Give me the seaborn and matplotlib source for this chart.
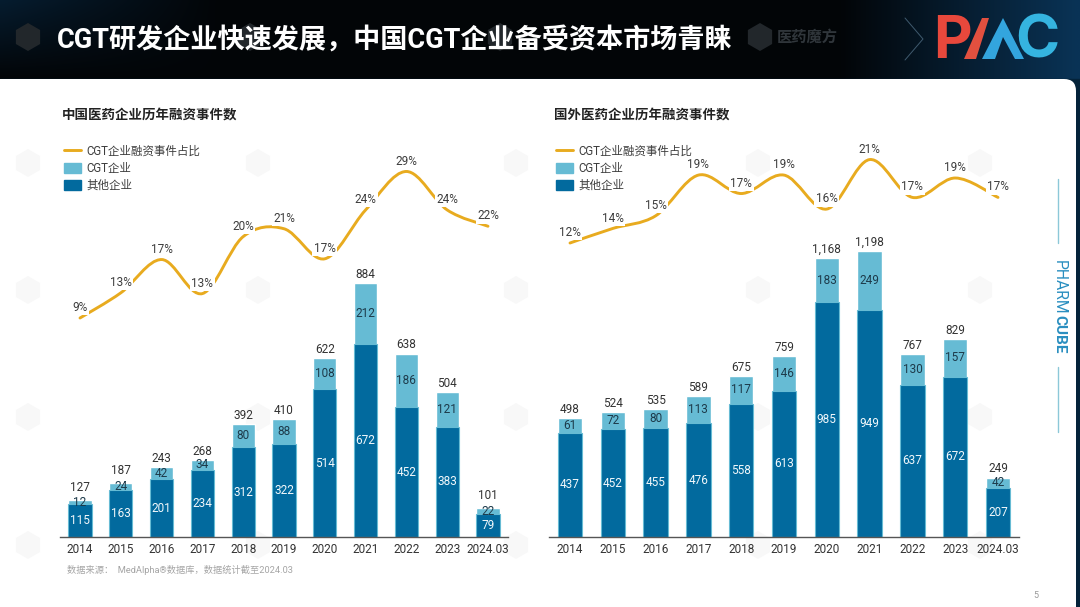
import numpy as np
import matplotlib
matplotlib.use("Agg")
import matplotlib.pyplot as plt
import seaborn as sns
from matplotlib.lines import Line2D
from matplotlib.patches import FancyBboxPatch, PathPatch, Patch, Polygon, Rectangle, RegularPolygon
from matplotlib.path import Path

years = ["2014", "2015", "2016", "2017", "2018", "2019", "2020", "2021", "2022", "2023", "2024.03"]

# 中国
cn_other = [115, 163, 201, 234, 312, 322, 514, 672, 452, 383, 79]
cn_cgt = [12, 24, 42, 34, 80, 88, 108, 212, 186, 121, 22]
cn_total = [127, 187, 243, 268, 392, 410, 622, 884, 638, 504, 101]
cn_share = [9.4, 12.8, 17.3, 12.7, 20.4, 21.46, 17.4, 24.0, 29.2, 24.0, 21.8]

# 国外
us_other = [437, 452, 455, 476, 558, 613, 985, 949, 637, 672, 207]
us_cgt = [61, 72, 80, 113, 117, 146, 183, 249, 130, 157, 42]
us_total = [498, 524, 535, 589, 675, 759, 1168, 1198, 767, 829, 249]
us_share = [12.2, 13.7, 15.0, 19.2, 17.3, 19.2, 15.7, 20.8, 16.9, 18.9, 16.9]

DARK = "#026a9e"
LIGHT = "#66bbd4"
GOLD = "#e8ab1f"
W, H = 1080, 607

sns.set_theme(style="white")
plt.rcParams["font.family"] = ["Roboto", "Noto Sans CJK SC", "DejaVu Sans"]
plt.rcParams["axes.unicode_minus"] = False

fig = plt.figure(figsize=(W / 100, H / 100), dpi=100, facecolor="white")

# 背景
bg = fig.add_axes([0, 0, 1, 1], zorder=0)
bg.axis("off")
xx, yy = np.meshgrid(np.linspace(0, 1, 216), np.linspace(0, 1, 40))
blue = np.clip((xx - 0.78) / 0.22, 0, 1) * 0.9 + np.clip((0.2 - xx) / 0.2, 0, 1) * (1 - yy) * 0.45
head = np.dstack([0.01 + 0.03 * blue, 0.02 + 0.2 * blue, 0.03 + 0.34 * blue])
bg.imshow(head, extent=[0, W, 79, 0], aspect="auto", zorder=1, interpolation="bilinear")
bg.set_xlim(0, W)
bg.set_ylim(H, 0)
bg.add_patch(Rectangle((0, 79), W, H - 79, color="#04233a", zorder=1))
bg.add_patch(FancyBboxPatch((-30, 79), 1106, 600, boxstyle="round,pad=0,rounding_size=12",
                            fc="white", ec="none", zorder=2))

# 水印
for x in [28, 250, 500, 760]:
    bg.add_patch(RegularPolygon((x, 37), 6, radius=14, fc="#22272b", ec="none", zorder=3))
bg.text(777, 37, "医药魔方", color="#30363b", fontsize=11, weight="bold", va="center", zorder=3)
for y in [163, 290, 417, 545]:
    for x in [28, 258, 516, 758, 980]:
        bg.add_patch(RegularPolygon((x, y), 6, radius=14, fc="#f8f8f8", ec="none", zorder=3))

bg.text(57, 41.5, "CGT研发企业快速发展，中国CGT企业备受资本市场青睐", color="white", fontsize=19.55,
        weight="bold", va="center", zorder=5)

# logo
bg.plot([905, 923, 905], [18, 39, 60], color="#3f5a6e", lw=0.7, zorder=3)
bg.text(933, 43, "P", color="#e8483c", fontsize=43, weight="bold", family="Inter", va="center", zorder=5)
bg.add_patch(Polygon([(964, 59), (976, 59), (989, 18), (982, 18)], fc="#e2503f", ec="none", zorder=5))
bg.add_patch(Polygon([(982, 59), (1003, 18), (1024, 59), (1015, 59), (1003, 37), (995, 59)],
                     fc="#33a5de", ec="none", zorder=5))
bg.text(1015, 42, "C", color="#35b4e0", fontsize=43, weight="bold", family="Inter", va="center", zorder=5)

# 侧边
bg.plot([1058, 1058], [179, 243], color="#8cc8d8", lw=1, zorder=3)
bg.plot([1058, 1058], [367, 432], color="#8cc8d8", lw=1, zorder=3)
bg.text(1059, 260, "PHARM", rotation=270, color="#2a8fc0", fontsize=11.3, ha="center", va="top", zorder=3)
bg.text(1059, 315, "CUBE", rotation=270, color="#2a8fc0", fontsize=11, weight="bold", ha="center", va="top", zorder=3)
bg.text(1036, 595, "5", color="#999999", fontsize=6.5, ha="center", va="center", zorder=3)
bg.text(67, 570, "数据来源：  MedAlpha®数据库，数据统计截至2024.03", color="#a5a5a5", fontsize=6.65,
        va="center", zorder=3)


def smooth_path(xs, ys):
    # Excel 风格平滑线
    pts = np.column_stack([xs, ys])
    verts = [pts[0]]
    codes = [Path.MOVETO]
    for i in range(len(pts) - 1):
        prev_p = pts[max(i - 1, 0)]
        next_p = pts[min(i + 2, len(pts) - 1)]
        verts += [pts[i] + (pts[i + 1] - prev_p) / 6, pts[i + 1] - (next_p - pts[i]) / 6, pts[i + 1]]
        codes += [Path.CURVE4] * 3
    return Path(verts, codes)


def draw_panel(left, right, title, title_x, other, cgt, total, share, bar_scale, y_ref, pct_scale):
    # left/right 为像素位置, 基线 y=537
    top, base = 120, 537
    ax = fig.add_axes([left / W, 1 - base / H, (right - left) / W, (base - top) / H], zorder=2)
    ax.patch.set_alpha(0)
    sns.barplot(x=years, y=total, color=LIGHT, saturation=1, width=0.57, ax=ax)
    sns.barplot(x=years, y=other, color=DARK, saturation=1, width=0.57, ax=ax,
                edgecolor=LIGHT, linewidth=0.8)
    ax.set_xlim(-0.5, 10.5)
    ax.set_ylim(0, (base - top) / bar_scale)
    ax.set_xlabel("")
    ax.set_ylabel("")
    ax.set_yticks([])
    sns.despine(ax=ax, left=True)
    ax.spines["bottom"].set_color("#555555")
    ax.spines["bottom"].set_linewidth(1)
    ax.tick_params(axis="x", length=0, pad=4.5, labelsize=8.5, labelcolor="#333333")

    for i in range(len(years)):
        ax.text(i, other[i] / 2, str(other[i]), color="#f2f8fb", fontsize=8.5, ha="center", va="center")
        ax.text(i, other[i] + cgt[i] / 2, str(cgt[i]), color="#1d3a4a", fontsize=8.5, ha="center", va="center")
        # 段太矮时总数上移, 避开段内数字
        pad = 4.5 if cgt[i] * bar_scale < 9 else 1.5
        ax.annotate(f"{total[i]:,}", (i, total[i]), xytext=(0, pad), textcoords="offset points",
                    color="#333333", fontsize=8.5, ha="center", va="bottom")

    # 折线轴
    lx = ax.twinx()
    lx.patch.set_alpha(0)
    ref_v, ref_y = y_ref
    lx.set_ylim(ref_v - (base - ref_y) / pct_scale, ref_v + (ref_y - top) / pct_scale)
    lx.set_yticks([])
    lx.grid(False)
    for s in lx.spines.values():
        s.set_visible(False)
    lx.add_patch(PathPatch(smooth_path(np.arange(len(years)), share), fc="none", ec=GOLD, lw=2.1,
                           capstyle="round", zorder=2))
    for i, v in enumerate(share):
        lx.annotate(f"{v:.0f}%", (i, v), xytext=(0, 7.5), textcoords="offset points", color="#3d3d3d",
                    fontsize=8.5, ha="center", va="center", zorder=3,
                    bbox=dict(fc="white", ec="none", pad=1))

    handles = [Line2D([0], [0], color=GOLD, lw=2.1), Patch(color=LIGHT), Patch(color=DARK)]
    leg = lx.legend(handles, ["CGT企业融资事件占比", "CGT企业", "其他企业"], frameon=False, fontsize=8.3,
                    loc="upper left", bbox_to_anchor=((title_x + 2) / W, 1 - 145 / H),
                    bbox_transform=fig.transFigure, borderpad=0, borderaxespad=0, handlelength=1.45,
                    handleheight=1.0, handletextpad=0.5, labelspacing=0.35, labelcolor="#3d3d3d")
    leg.set_zorder(5)

    bg.text(title_x, 116.5, title, color="#222222", fontsize=9.7, weight="bold", va="center", zorder=3)


draw_panel(59.6, 508.4, "中国医药企业历年融资事件数", 62, cn_other, cn_cgt, cn_total, cn_share,
           0.2875, (9.4, 318), 7.4)
draw_panel(548.6, 1019.4, "国外医药企业历年融资事件数", 554, us_other, us_cgt, us_total, us_share,
           0.2387, (12.2, 243), 9.7)

fig.savefig("out.png", dpi=100)
